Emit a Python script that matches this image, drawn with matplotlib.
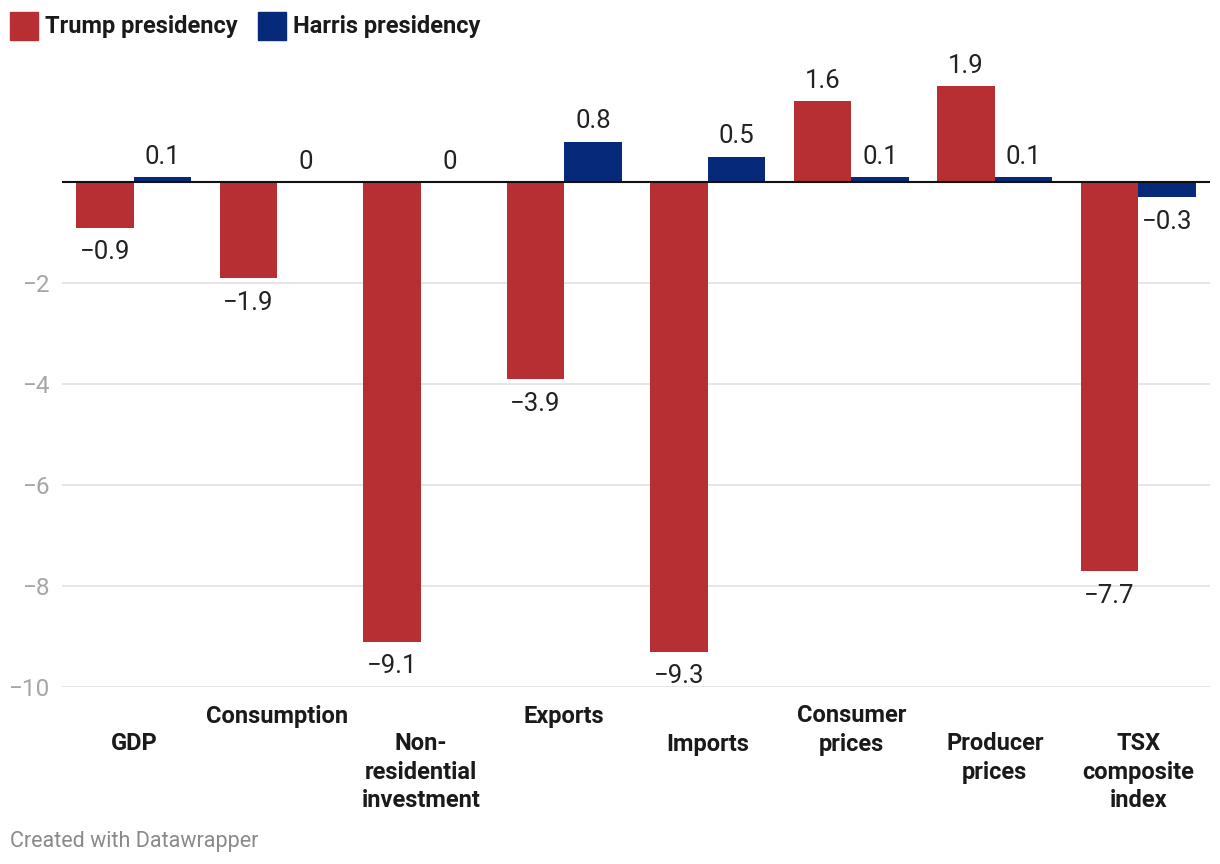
import matplotlib.pyplot as plt
import matplotlib.transforms as mtransforms
from matplotlib.patches import Rectangle
import numpy as np

plt.rcParams['font.family'] = ['Roboto', 'DejaVu Sans']

categories = ['GDP', 'Consumption', 'Non-\nresidential\ninvestment', 'Exports',
              'Imports', 'Consumer\nprices', 'Producer\nprices', 'TSX\ncomposite\nindex']
trump = [-0.9, -1.9, -9.1, -3.9, -9.3, 1.6, 1.9, -7.7]
harris = [0.1, 0, 0, 0.8, 0.5, 0.1, 0.1, -0.3]
series_names = ['Trump presidency', 'Harris presidency']
yticks = [-10, -8, -6, -4, -2]

RED = '#b82f33'
BLUE = '#06297a'
label_row = [1, 0, 1, 0, 1, 0, 1, 1]  # staggered category labels


def fmt(v):
    if v == 0:
        return '0'
    s = f'{abs(v):g}'
    return ('\u2212' + s) if v < 0 else s


fig = plt.figure(figsize=(12.2, 8.64), dpi=100)
ax = fig.add_axes([62 / 1220, 177 / 864, 1148 / 1220, (687 - 66) / 864])

x = np.arange(len(categories))
w = 0.4
ax.bar(x - w / 2, trump, w, color=RED, zorder=2)
ax.bar(x + w / 2, harris, w, color=BLUE, zorder=2)

for vals, off in [(trump, -w / 2), (harris, w / 2)]:
    for xi, v in zip(x, vals):
        dy = 14.8 if v >= 0 else -17.8
        ax.annotate(fmt(v), (xi + off, v), xytext=(0, dy), textcoords='offset points',
                    ha='center', va='center', fontsize=18.5, color='#222222')

ax.set_xlim(-0.5, len(categories) - 0.5)
ax.set_ylim(-10, 2.3)
for t in yticks:
    ax.axhline(t, color='#e2e2e2', lw=1.2, zorder=0)
ax.axhline(0, color='#111111', lw=1.5, zorder=3)

ax.set_yticks(yticks)
ax.set_yticklabels([fmt(t) for t in yticks], fontsize=17.5, color='#a6a6a6')
ax.tick_params(axis='y', length=0, pad=9)
ax.set_xticks([])
for s in ax.spines.values():
    s.set_visible(False)

trans = mtransforms.blended_transform_factory(ax.transData, ax.transAxes)
for xi, lab, row in zip(x, categories, label_row):
    off = mtransforms.ScaledTranslation(0, -(17.5 if row == 0 else 45.5) / 100, fig.dpi_scale_trans)
    ax.text(xi, 0, lab, transform=trans + off, ha='center', va='top',
            fontsize=17, fontweight='bold', color='#1a1a1a', linespacing=1.3)

# legend
lx = [10, 258]
for px, name, c in zip(lx, series_names, [RED, BLUE]):
    fig.patches.append(Rectangle((px / 1220, 1 - 40 / 864), 28 / 1220, 28 / 864,
                                 transform=fig.transFigure, color=c))
    fig.text((px + 35) / 1220, 1 - 27 / 864, name, ha='left', va='center',
             fontsize=17, fontweight='bold', color='#1a1a1a')

fig.text(10 / 1220, 1 - 842 / 864, 'Created with Datawrapper', ha='left', va='center',
         fontsize=15.5, color='#8a8a8a')

fig.savefig('out.png', dpi=100)
